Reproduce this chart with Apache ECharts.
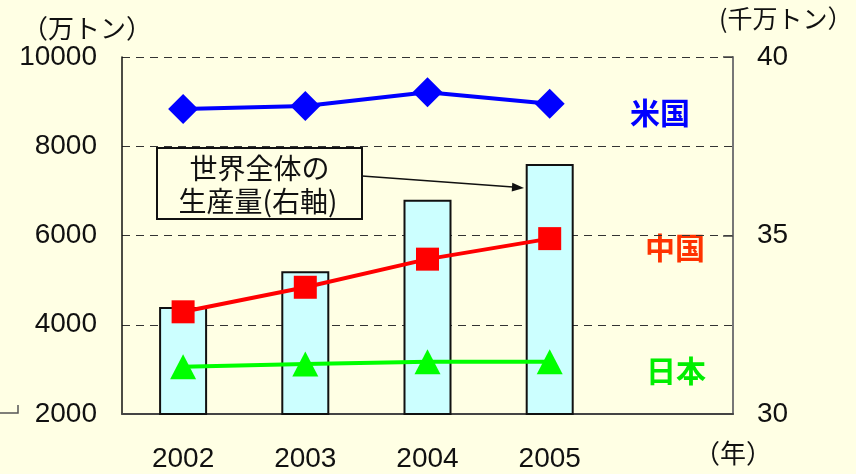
<!DOCTYPE html>
<html>
<head>
<meta charset="utf-8">
<script src="https://cdn.jsdelivr.net/npm/echarts@6/dist/echarts.min.js"></script>
<style>
html,body{margin:0;padding:0;background:#FFFFE4;}
#c{width:856px;height:474px;}
</style>
</head>
<body>
<div id="c"></div>
<script>
const years = ['2002', '2003', '2004', '2005', ''];
const worldTotal = [33.0, 34.0, 36.0, 37.0];   // 千万トン (right axis)
const usa = [8835, 8900, 9210, 8950];          // 万トン
const china = [4290, 4840, 5470, 5930];
const japan = [3060, 3120, 3170, 3170];
const leftTicks = [2000, 10000, 2000];          // min, max, interval
const rightTicks = [30, 40, 5];

const FONT = "'Liberation Sans', 'Noto Sans CJK JP', sans-serif";
const JFONT = "'Noto Sans CJK JP', sans-serif";
const BG = '#FFFFE4';

const chart = echarts.init(document.getElementById('c'), null, {renderer: 'canvas'});
chart.setOption({
  backgroundColor: BG,
  animation: false,
  grid: {left: 122, right: 123, top: 57, bottom: 60},
  xAxis: {
    type: 'category',
    data: years,
    boundaryGap: true,
    axisLine: {lineStyle: {color: '#444', width: 2}},
    axisTick: {inside: true, length: 10, lineStyle: {color: '#444', width: 1.5}},
    axisLabel: {color: '#111', fontSize: 28, fontFamily: FONT, margin: 31}
  },
  yAxis: [
    {
      type: 'value', min: leftTicks[0], max: leftTicks[1], interval: leftTicks[2],
      position: 'left',
      axisLine: {show: true, lineStyle: {color: '#111', width: 1.5}},
      axisTick: {show: false},
      axisLabel: {color: '#111', fontSize: 28, fontFamily: FONT, margin: 25, formatter: v => String(v)},
      splitLine: {show: true, lineStyle: {color: '#333', type: [8, 6], width: 1.2}}
    },
    {
      type: 'value', min: rightTicks[0], max: rightTicks[1], interval: rightTicks[2],
      position: 'right',
      axisLine: {show: true, lineStyle: {color: '#777', width: 2}},
      axisTick: {show: true, inside: true, length: 10, lineStyle: {color: '#444', width: 1.5}},
      axisLabel: {color: '#111', fontSize: 28, fontFamily: FONT, margin: 24, formatter: v => String(v)},
      splitLine: {show: false}
    }
  ],
  series: [
    {
      type: 'bar', yAxisIndex: 1, data: worldTotal, barWidth: 48,
      itemStyle: {color: '#CCFFFF', borderColor: '#111', borderWidth: 2},
      z: 1
    },
    {
      type: 'line', yAxisIndex: 0, data: usa,
      symbol: 'diamond', symbolSize: [30, 30],
      lineStyle: {color: '#0000FF', width: 4},
      itemStyle: {color: '#0000FF'}, z: 3
    },
    {
      type: 'line', yAxisIndex: 0, data: china,
      symbol: 'rect', symbolSize: [23, 23],
      lineStyle: {color: '#FF0000', width: 4},
      itemStyle: {color: '#FF0000'}, z: 3
    },
    {
      type: 'line', yAxisIndex: 0, data: japan,
      symbol: 'triangle', symbolSize: [26, 25],
      lineStyle: {color: '#00FF00', width: 4},
      itemStyle: {color: '#00FF00'}, z: 3
    }
  ],
  graphic: [
    {type: 'text', left: 22, top: 15, style: {text: '（万トン）', font: '26px ' + JFONT, fill: '#111'}},
    {type: 'text', left: 719, top: 6, style: {text: '(千万トン）', font: '25px ' + JFONT, fill: '#111'}},
    {type: 'text', left: 694, top: 440, style: {text: '（年）', font: '26px ' + JFONT, fill: '#111'}},
    {type: 'text', x: 660, y: 113, style: {text: '米国', font: 'bold 30px ' + JFONT, fill: '#0000FF', align: 'center', verticalAlign: 'middle'}},
    {type: 'text', x: 675, y: 248, style: {text: '中国', font: 'bold 30px ' + JFONT, fill: '#FF3300', align: 'center', verticalAlign: 'middle'}},
    {type: 'text', x: 676, y: 371, style: {text: '日本', font: 'bold 30px ' + JFONT, fill: '#00EE00', align: 'center', verticalAlign: 'middle'}},
    {type: 'rect', shape: {x: 157, y: 148, width: 205, height: 71}, style: {fill: BG, stroke: '#111', lineWidth: 2}, z: 10},
    {type: 'text', x: 259.5, y: 168, style: {text: '世界全体の', font: '28px ' + JFONT, fill: '#111', align: 'center', verticalAlign: 'middle'}, z: 11},
    {type: 'text', x: 258, y: 201, style: {text: '生産量(右軸)', font: '28px ' + JFONT, fill: '#111', align: 'center', verticalAlign: 'middle'}, z: 11},
    {type: 'line', shape: {x1: 362, y1: 176, x2: 513, y2: 187}, style: {stroke: '#111', lineWidth: 1.5}, z: 10},
    {type: 'polygon', shape: {points: [[524, 188], [511.7, 191.6], [512.3, 182.8]]}, style: {fill: '#111'}, z: 10},
    {type: 'polyline', shape: {points: [[0, 413], [18, 413], [18, 405]]}, style: {stroke: '#555', lineWidth: 1.5, fill: null}}
  ]
});
</script>
</body>
</html>
